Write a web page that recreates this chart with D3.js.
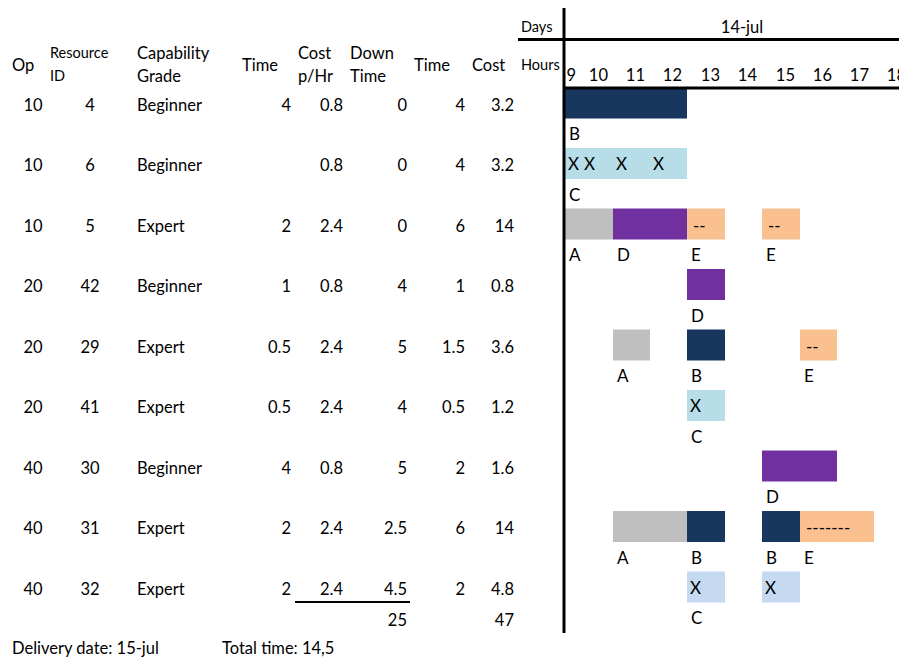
<!DOCTYPE html>
<html>
<head>
<meta charset="utf-8">
<script src="https://cdn.jsdelivr.net/npm/d3@7"></script>
<style>
  html, body { margin: 0; padding: 0; background: #ffffff; }
  svg { display: block; }
  text { font-family: Lato, "Open Sans", sans-serif; fill: #000; }
</style>
</head>
<body>
<svg id="chart" width="899" height="661"></svg>
<script>
// ---- Resource table ----
const ops          = [10, 10, 10, 20, 20, 20, 40, 40, 40];
const resourceIds  = [4, 6, 5, 42, 29, 41, 30, 31, 32];
const grades       = ["Beginner", "Beginner", "Expert", "Beginner", "Expert", "Expert", "Beginner", "Expert", "Expert"];
const setupTimes   = [4, null, 2, 1, 0.5, 0.5, 4, 2, 2];
const costPerHour  = [0.8, 0.8, 2.4, 0.8, 2.4, 2.4, 0.8, 2.4, 2.4];
const downTimes    = [0, 0, 0, 4, 5, 4, 5, 2.5, 4.5];
const runTimes     = [4, 4, 6, 1, 1.5, 0.5, 2, 6, 2];
const costs        = [3.2, 3.2, 14, 0.8, 3.6, 1.2, 1.6, 14, 4.8];
const totalDownTime = 25;
const totalCost     = 47;
const deliveryDate  = "15-jul";
const totalTime     = "14,5";

// ---- Schedule (day 14-jul, hours 9..18) ----
const dayLabel = "14-jul";
const hours = [9, 10, 11, 12, 13, 14, 15, 16, 17, 18];

// Each block: resource row, start hour, end hour, task kind, letter under it, mark inside it
const blocks = [
  { row: 0, start: 9,  end: 13, kind: "B",  label: "B", mark: "" },
  { row: 1, start: 9,  end: 10, kind: "C",  label: "C", mark: "X" },
  { row: 1, start: 10, end: 11, kind: "C",  label: "",  mark: "X" },
  { row: 1, start: 11, end: 12, kind: "C",  label: "",  mark: "X" },
  { row: 1, start: 12, end: 13, kind: "C",  label: "",  mark: "X" },
  { row: 2, start: 9,  end: 11, kind: "A",  label: "A", mark: "" },
  { row: 2, start: 11, end: 13, kind: "D",  label: "D", mark: "" },
  { row: 2, start: 13, end: 14, kind: "E",  label: "E", mark: "--" },
  { row: 2, start: 15, end: 16, kind: "E",  label: "E", mark: "--" },
  { row: 3, start: 13, end: 14, kind: "D",  label: "D", mark: "" },
  { row: 4, start: 11, end: 12, kind: "A",  label: "A", mark: "" },
  { row: 4, start: 13, end: 14, kind: "B",  label: "B", mark: "" },
  { row: 4, start: 16, end: 17, kind: "E",  label: "E", mark: "--" },
  { row: 5, start: 13, end: 14, kind: "C",  label: "C", mark: "X" },
  { row: 6, start: 15, end: 17, kind: "D",  label: "D", mark: "" },
  { row: 7, start: 11, end: 13, kind: "A",  label: "A", mark: "" },
  { row: 7, start: 13, end: 14, kind: "B",  label: "B", mark: "" },
  { row: 7, start: 15, end: 16, kind: "B",  label: "B", mark: "" },
  { row: 7, start: 16, end: 18, kind: "E",  label: "E", mark: "-------" },
  { row: 8, start: 13, end: 14, kind: "C2", label: "C", mark: "X" },
  { row: 8, start: 15, end: 16, kind: "C2", label: "",  mark: "X" }
];

const kindColor = d3.scaleOrdinal()
  .domain(["A", "B", "C", "C2", "D", "E"])
  .range(["#bfbfbf", "#17375e", "#b7dee8", "#c5d9f1", "#7030a0", "#fac090"]);

const svg = d3.select("#chart");
const W = 899;

// hour columns are not all the same width (first two are narrower)
const x = d3.scaleLinear()
  .domain([9, 10, 11, 12, 13, 14, 15, 16, 17, 18, 19])
  .range([565, 581, 613, 650, 687, 725, 762, 800, 837, 874, 911]);

// text row centres
const yRow = d3.scaleLinear().domain([0, 8]).range([105, 589]);
const barH = 31;
const barTop = r => yRow(r) - 17.5;

const fs = 16.5;
const fsSmall = 14.5;

// ---- table headers ----
const headers = [
  { lines: ["Op"], x: 12, anchor: "start", size: fs },
  { lines: ["Resource", "ID"], x: 50, anchor: "start", size: fsSmall },
  { lines: ["Capability", "Grade"], x: 137, anchor: "start", size: fs },
  { lines: ["Time"], x: 242, anchor: "start", size: fs },
  { lines: ["Cost", "p/Hr"], x: 298, anchor: "start", size: fs },
  { lines: ["Down", "Time"], x: 350, anchor: "start", size: fs },
  { lines: ["Time"], x: 414, anchor: "start", size: fs },
  { lines: ["Cost"], x: 472, anchor: "start", size: fs },
  { lines: ["Hours"], x: 521, anchor: "start", size: fsSmall }
];
const hdr = svg.append("g").attr("class", "headers");
headers.forEach(h => {
  const ys = h.lines.length === 1 ? [65] : [53, 76];
  h.lines.forEach((t, i) => {
    hdr.append("text")
      .attr("x", h.x).attr("y", ys[i])
      .attr("dy", "0.35em")
      .attr("text-anchor", h.anchor)
      .style("font-size", h.size + "px")
      .text(t);
  });
});

// ---- table body ----
const fmt = v => (v === null || v === undefined) ? "" : String(v);
const columns = [
  { values: ops,         x: 33,  anchor: "middle" },
  { values: resourceIds, x: 90,  anchor: "middle" },
  { values: grades,      x: 137, anchor: "start" },
  { values: setupTimes,  x: 291, anchor: "end" },
  { values: costPerHour, x: 343, anchor: "end" },
  { values: downTimes,   x: 407, anchor: "end" },
  { values: runTimes,    x: 465, anchor: "end" },
  { values: costs,       x: 514, anchor: "end" }
];
const body = svg.append("g").attr("class", "body");
columns.forEach(c => {
  body.selectAll(null)
    .data(c.values)
    .join("text")
    .attr("x", c.x)
    .attr("y", (d, i) => yRow(i))
    .attr("dy", "0.35em")
    .attr("text-anchor", c.anchor)
    .style("font-size", fs + "px")
    .text(fmt);
});

// sum rule under the last row and totals
svg.append("line")
  .attr("x1", 295).attr("x2", 410)
  .attr("y1", 602).attr("y2", 602)
  .attr("stroke", "#000").attr("stroke-width", 2);

const yTotals = 620;
svg.append("text").attr("x", 407).attr("y", yTotals).attr("dy", "0.35em")
  .attr("text-anchor", "end").style("font-size", fs + "px").text(totalDownTime);
svg.append("text").attr("x", 514).attr("y", yTotals).attr("dy", "0.35em")
  .attr("text-anchor", "end").style("font-size", fs + "px").text(totalCost);

svg.append("text").attr("x", 12).attr("y", 648).attr("dy", "0.35em")
  .style("font-size", fs + "px").text("Delivery date: " + deliveryDate);
svg.append("text").attr("x", 222).attr("y", 648).attr("dy", "0.35em")
  .style("font-size", fs + "px").text("Total time: " + totalTime);

// ---- timeline header ----
svg.append("text").attr("x", 521).attr("y", 27).attr("dy", "0.35em")
  .style("font-size", fsSmall + "px").text("Days");
svg.append("text").attr("x", 742).attr("y", 27).attr("dy", "0.35em")
  .attr("text-anchor", "middle").style("font-size", fs + "px").text(dayLabel);

svg.append("g").attr("class", "hours")
  .selectAll("text")
  .data(hours)
  .join("text")
  .attr("x", h => x(h + 1) - 5)
  .attr("y", 75)
  .attr("dy", "0.35em")
  .attr("text-anchor", "end")
  .style("font-size", fs + "px")
  .text(h => h);

// ---- blocks ----
const g = svg.append("g").attr("class", "blocks");
g.selectAll("rect")
  .data(blocks)
  .join("rect")
  .attr("x", d => x(d.start))
  .attr("y", d => barTop(d.row))
  .attr("width", d => x(d.end) - x(d.start))
  .attr("height", barH)
  .attr("fill", d => kindColor(d.kind));

g.selectAll("text.mark")
  .data(blocks.filter(d => d.mark))
  .join("text")
  .attr("class", "mark")
  .attr("x", d => x(d.start) + (d.mark === "X" ? 3 : 6))
  .attr("y", d => barTop(d.row) + barH / 2 + (d.mark === "X" ? 1 : 2))
  .attr("dy", "0.35em")
  .style("font-size", (fs + 0.5) + "px")
  .text(d => d.mark);

g.selectAll("text.task")
  .data(blocks.filter(d => d.label))
  .join("text")
  .attr("class", "task")
  .attr("x", d => x(d.start) + 4)
  .attr("y", d => barTop(d.row) + 47)
  .attr("dy", "0.35em")
  .style("font-size", (fs + 0.5) + "px")
  .text(d => d.label);

// ---- grid rules ----
svg.append("line")
  .attr("x1", 518).attr("x2", W).attr("y1", 39.5).attr("y2", 39.5)
  .attr("stroke", "#000").attr("stroke-width", 3);
svg.append("line")
  .attr("x1", 563).attr("x2", W).attr("y1", 88).attr("y2", 88)
  .attr("stroke", "#000").attr("stroke-width", 3);
svg.append("line")
  .attr("x1", 564).attr("x2", 564).attr("y1", 8).attr("y2", 633)
  .attr("stroke", "#000").attr("stroke-width", 3);
</script>
</body>
</html>
